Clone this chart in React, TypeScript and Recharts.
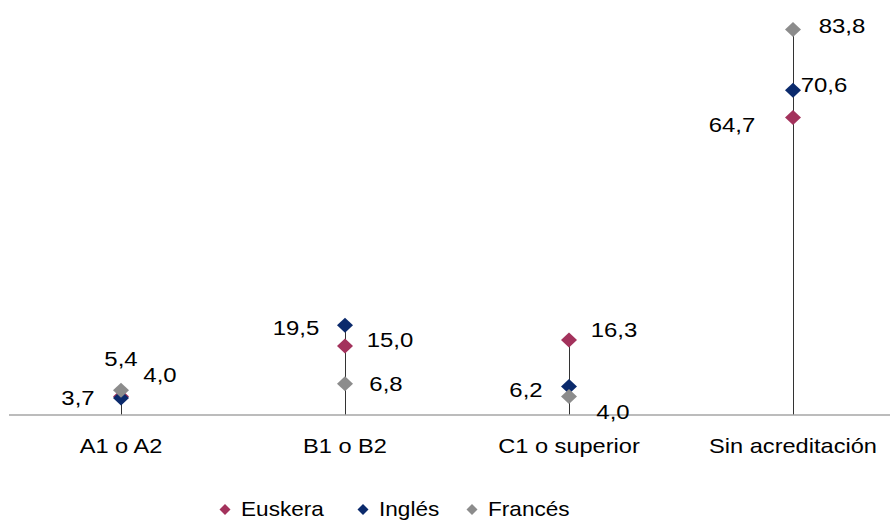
import React from 'react';
import { ComposedChart, Bar, Line, XAxis, YAxis, Legend } from 'recharts';

const categories = ['A1 o A2', 'B1 o B2', 'C1 o superior', 'Sin acreditación'];
const euskera = [4.0, 15.0, 16.3, 64.7];
const ingles = [3.7, 19.5, 6.2, 70.6];
const frances = [5.4, 6.8, 4.0, 83.8];

// label offsets (dx, dy) from each marker, per category
const euskeraLabelPos = [[39, -22], [45, -6], [45, -10], [-61, 8]];
const inglesLabelPos = [[-43, 0], [-49, 3], [-43, 4], [31, -5]];
const francesLabelPos = [[0, -31], [41, 0], [44, 15], [49, -4]];

const FONT = '"Liberation Sans", Arial, sans-serif';

const COLORS = {
  euskera: '#A3325C',
  ingles: '#0B2A6C',
  frances: '#8C8C8C',
};

const data = categories.map((category, i) => ({
  category,
  euskera: euskera[i],
  ingles: ingles[i],
  frances: frances[i],
  top: Math.max(euskera[i], ingles[i], frances[i]),
}));

const fmt = (v: number) => v.toFixed(1).replace('.', ',');

const makeDot = (color: string) => (props: any) => {
  const { cx, cy, index } = props;
  if (cx == null || cy == null) return <g key={`d-${index}`} />;
  return (
    <polygon
      key={`d-${index}`}
      points={`${cx},${cy - 7.5} ${cx + 8},${cy} ${cx},${cy + 7.5} ${cx - 8},${cy}`}
      fill={color}
    />
  );
};

const makeLabel = (offsets: number[][]) => (props: any) => {
  const { x, y, value, index } = props;
  const [dx, dy] = offsets[index];
  return (
    <text
      key={`l-${index}`}
      transform={`translate(${x + dx},${y + dy}) scale(1.14,1)`}
      textAnchor="middle"
      dominantBaseline="central"
      fontSize={21}
      fontFamily={FONT}
      fill="#000"
    >
      {fmt(value)}
    </text>
  );
};

const CategoryTick = ({ x, y, payload }: any) => (
  <text
    transform={`translate(${x},${y + 38}) scale(1.18,1)`}
    textAnchor="middle"
    fontSize={20}
    fontFamily={FONT}
    fill="#000"
  >
    {payload.value}
  </text>
);

const legendItems = [
  { name: 'Euskera', color: COLORS.euskera, x: 225 },
  { name: 'Inglés', color: COLORS.ingles, x: 363 },
  { name: 'Francés', color: COLORS.frances, x: 472 },
];

const CustomLegend = () => (
  <svg width={890} height={30} style={{ display: 'block' }}>
    {legendItems.map((item) => (
      <g key={item.name}>
        <polygon
          points={`${item.x},${13} ${item.x + 5.5},${18.5} ${item.x},${24} ${item.x - 5.5},${18.5}`}
          fill={item.color}
        />
        <text
          transform={`translate(${item.x + 16},${25}) scale(1.13,1)`}
          fontSize={20}
          fontFamily={FONT}
          fill="#000"
        >
          {item.name}
        </text>
      </g>
    ))}
  </svg>
);

export default function App() {
  return (
    <div style={{ position: 'fixed', left: 0, top: 0, width: 890, height: 521, overflow: 'hidden', background: '#fff' }}>
      <ComposedChart width={905} height={521} data={data} margin={{ top: 1, right: 0, bottom: 0, left: 9 }}>
        <XAxis
          dataKey="category"
          interval={0}
          tickLine={false}
          tickSize={0}
          tickMargin={0}
          height={76}
          axisLine={{ stroke: '#A6A6A6', strokeWidth: 1.5 }}
          tick={<CategoryTick />}
        />
        <YAxis hide domain={[0, 90]} />
        <Bar dataKey="top" barSize={1} fill="#333" isAnimationActive={false} legendType="none" />
        <Line
          dataKey="euskera"
          stroke="none"
          dot={makeDot(COLORS.euskera)}
          activeDot={false}
          label={makeLabel(euskeraLabelPos)}
          isAnimationActive={false}
        />
        <Line
          dataKey="ingles"
          stroke="none"
          dot={makeDot(COLORS.ingles)}
          activeDot={false}
          label={makeLabel(inglesLabelPos)}
          isAnimationActive={false}
        />
        <Line
          dataKey="frances"
          stroke="none"
          dot={makeDot(COLORS.frances)}
          activeDot={false}
          label={makeLabel(francesLabelPos)}
          isAnimationActive={false}
        />
        <Legend
          verticalAlign="bottom"
          content={<CustomLegend />}
          wrapperStyle={{ left: 0, width: 890, height: 30 }}
        />
      </ComposedChart>
    </div>
  );
}
